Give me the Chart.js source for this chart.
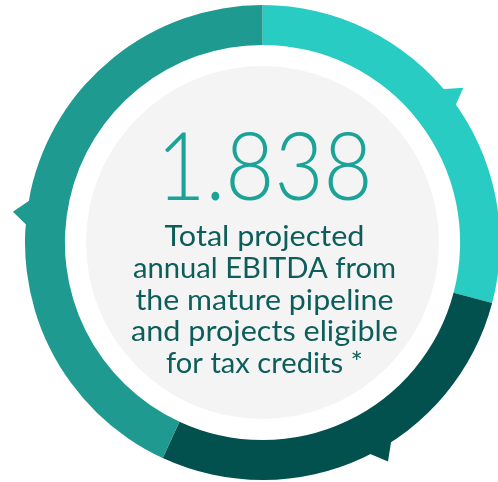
<!DOCTYPE html>
<html>
<head>
<meta charset="utf-8">
<script src="https://cdn.jsdelivr.net/npm/chart.js@4.4.1/dist/chart.umd.min.js"></script>
<style>
  html, body { margin: 0; padding: 0; background: #ffffff; overflow: hidden; }
  #wrap { width: 498px; height: 482px; overflow: hidden; position: relative; }
  canvas { display: block; }
</style>
</head>
<body>
<div id="wrap"><canvas id="c" width="502" height="482"></canvas></div>
<script>
// ---- data ----
const categories = ['Segment 1', 'Segment 2', 'Segment 3'];
const values = [29.1, 27.8, 43.1];
const segmentColors = ['#29CCC3', '#02514F', '#1F9A90'];
const headline = '1.838';
const captionLines = [
  'Total projected',
  'annual EBITDA from',
  'the mature pipeline',
  'and projects eligible',
  'for tax credits *'
];

// ---- styling constants (not data) ----
const captionWidths = [200, 263, 258, 267, 197];
const tipDefs = [ // [segment index, base start deg, apex deg, base end deg, apex extra radius]
  [0, 49.4, 52.4, 54.8, 16],
  [2, 274.0, 277.0, 280.5, 14],
  [1, 146.8, 150.2, 153.4, 15]
];

function pt(cx, cy, r, deg) {
  const a = deg * Math.PI / 180;
  return [cx + r * Math.sin(a), cy - r * Math.cos(a)];
}

function drawScaledText(ctx, text, cx, baseline, targetW) {
  const w = ctx.measureText(text).width;
  const s = targetW / w;
  ctx.save();
  ctx.translate(cx, baseline);
  ctx.scale(s, 1);
  ctx.fillText(text, 0, 0);
  ctx.restore();
}

const centerPlugin = {
  id: 'centerPlugin',
  beforeDatasetsDraw(chart) {
    const arc = chart.getDatasetMeta(0).data[0];
    if (!arc) return;
    const { x, y, innerRadius } = arc.getProps(['x', 'y', 'innerRadius'], true);
    const ctx = chart.ctx;
    ctx.save();
    ctx.beginPath();
    ctx.arc(x, y, innerRadius * 0.893, 0, Math.PI * 2);
    ctx.fillStyle = '#F4F4F4';
    ctx.fill();
    ctx.restore();
  },
  afterDatasetsDraw(chart) {
    const meta = chart.getDatasetMeta(0);
    const arc = meta.data[0];
    if (!arc) return;
    const { x, y, outerRadius, innerRadius } = arc.getProps(['x', 'y', 'outerRadius', 'innerRadius'], true);
    const ctx = chart.ctx;
    // arrow tips on the outer edge
    tipDefs.forEach(([si, a0, am, a1, ext]) => {
      const p0 = pt(x, y, outerRadius - 2, a0);
      const pm = pt(x, y, outerRadius + ext, am);
      const p1 = pt(x, y, outerRadius - 2, a1);
      ctx.save();
      ctx.beginPath();
      ctx.moveTo(p0[0], p0[1]);
      ctx.lineTo(pm[0], pm[1]);
      ctx.lineTo(p1[0], p1[1]);
      ctx.closePath();
      ctx.fillStyle = segmentColors[si];
      ctx.fill();
      ctx.restore();
    });

    // headline number
    ctx.save();
    ctx.textAlign = 'center';
    ctx.textBaseline = 'alphabetic';
    ctx.font = '300 95px Lato, "Open Sans", sans-serif';
    const hw = 216;
    const grad = ctx.createLinearGradient(x - hw / 2, 0, x + hw / 2, 0);
    grad.addColorStop(0, '#1BA398');
    grad.addColorStop(1, '#0A5855');
    ctx.fillStyle = grad;
    drawScaledText(ctx, headline, x + 2, y - 43, hw);
    ctx.restore();

    // caption
    ctx.save();
    ctx.textAlign = 'center';
    ctx.textBaseline = 'alphabetic';
    ctx.font = '400 29px Lato, "Open Sans", sans-serif';
    ctx.fillStyle = '#0D5E5B';
    captionLines.forEach((line, i) => {
      drawScaledText(ctx, line, x + 2, y + 3.5 + i * 31.8, captionWidths[i]);
    });
    ctx.restore();
  }
};

new Chart(document.getElementById('c'), {
  type: 'doughnut',
  data: {
    labels: categories,
    datasets: [{
      data: values,
      backgroundColor: segmentColors,
      borderWidth: 0,
      hoverOffset: 0
    }]
  },
  options: {
    responsive: false,
    animation: false,
    cutout: '83.2%',
    layout: { padding: { left: 25, right: 2, top: 5, bottom: 2 } },
    plugins: {
      legend: { display: false },
      tooltip: { enabled: false },
      title: { display: false }
    },
    events: []
  },
  plugins: [centerPlugin]
});
</script>
</body>
</html>
